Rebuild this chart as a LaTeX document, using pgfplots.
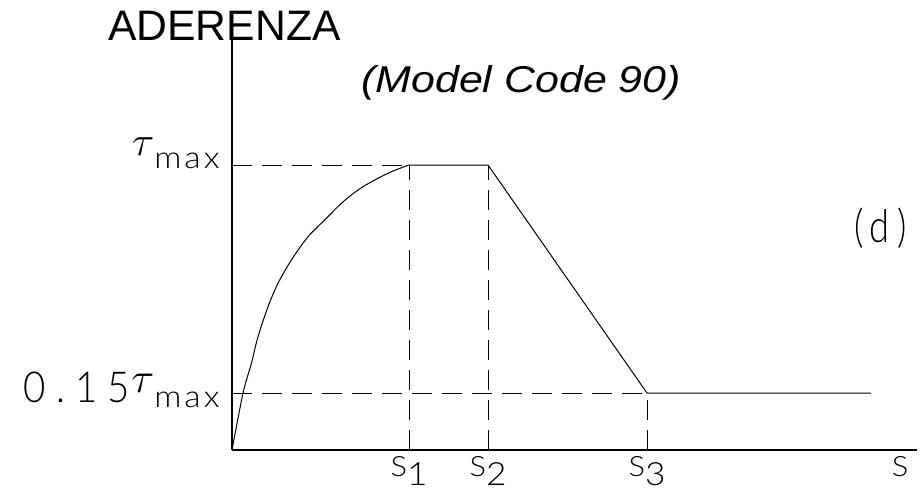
\RequirePackage{fix-cm}
\documentclass[border=0pt]{standalone}
\usepackage{fontspec}
\usepackage{pgfplots}
\pgfplotsset{compat=1.18}
\setmainfont{Liberation Sans}
\newfontfamily\wide{Liberation Sans}[FakeStretch=1.15]
% thin lettering: narrow spaced digits, wide letters
\newfontfamily\thind{Lato Light}[FakeStretch=0.9, LetterSpace=24]
\newfontfamily\thinp{Lato Light}[FakeStretch=0.8, LetterSpace=16]
\newfontfamily\thinl{Lato Light}[FakeStretch=1.1, LetterSpace=10]

% tick label pieces
\newcommand\fs[1]{\fontsize{#1}{#1}\selectfont}
\newcommand\tmax{\raisebox{7.3pt}{\fs{31}$\tau$\raisebox{-9.75pt}{\thinl\fs{23}max}}}
\newcommand\tlow{\raisebox{-6.75pt}{\thind\fs{32}0.15\kern1pt\raisebox{7.5pt}{$\tau$}\raisebox{-3.75pt}{\thinl\fs{23}max}}}
\newcommand\sub[1]{{\thinl\fs{21}S}\raisebox{-6.5pt}{\thinl\fs{24}#1}}

\begin{document}
\begin{tikzpicture}
\begin{axis}[
  x=0.75pt, y=0.75pt,
  xmin=0, xmax=685, ymin=0, ymax=410,
  axis lines=left,
  axis line style={-, line width=0.9pt},
  clip=false,
  major tick length=0pt,
  xtick={177,256,415,668},
  xticklabels={{\sub{1}},{\sub{2}},{\sub{3}},{\thinl\fs{21}S}},
  ytick={57,285},
  yticklabels={{\tlow},{\tmax}},
  xticklabel style={anchor=base, inner sep=0pt, yshift=-20pt},
  yticklabel style={anchor=base east, inner sep=0pt, xshift=-9pt},
  dash/.style={black, line width=0.75pt, dash pattern=on 15pt off 7.5pt},
]
% invisible frame that fixes the page size
\path (axis cs:-232,-40) rectangle (axis cs:688,450);

% reference lines
\addplot[dash] coordinates {(0,285) (177,285)};
\addplot[dash] coordinates {(177,0) (177,285)};
\addplot[dash] coordinates {(256,0) (256,285)};
\addplot[dash] coordinates {(0,57) (415,57)};
\addplot[dash] coordinates {(415,0) (415,57)};

% ascending branch up to s1
\addplot[black, line width=0.75pt, smooth] coordinates {
  (0,0) (11,56.7) (19.4,86.7) (26,113.3) (36,143.3) (46,166.7)
  (59.4,190) (76,213.3) (92.7,230) (109.4,246.7) (126,260)
  (142.7,270) (159.4,278.3) (177,285)};
% plateau, softening and residual branch
\addplot[black, line width=0.75pt] coordinates {
  (177,285) (256,285) (415,57) (639,57)};

\node[anchor=base west, inner sep=0pt, font=\fs{32}]
  at (axis cs:-124,409) {ADERENZA};
\node[anchor=base west, inner sep=0pt, font=\wide\itshape\fs{28}]
  at (axis cs:129,358) {(Model Code 90)};
\node[anchor=west, inner sep=0pt, font=\thinp\fs{34}]
  at (axis cs:622,222) {(d)};
\end{axis}
\end{tikzpicture}
\end{document}
